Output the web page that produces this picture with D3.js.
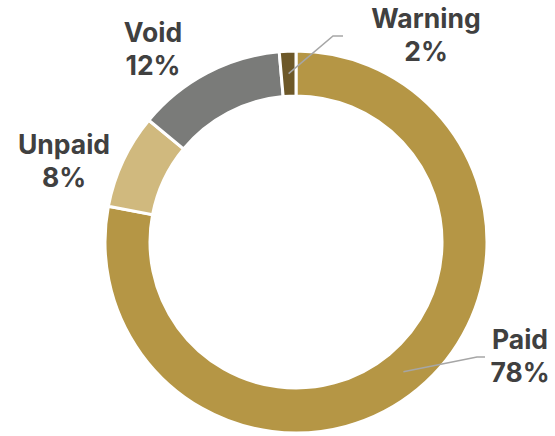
<!DOCTYPE html>
<html>
<head>
<meta charset="utf-8">
<script src="https://cdn.jsdelivr.net/npm/d3@7"></script>
<style>
  html, body { margin: 0; padding: 0; background: #fff; }
  svg { display: block; }
</style>
</head>
<body>
<svg id="chart" width="555" height="436"></svg>
<script>
const categories = ["Paid", "Unpaid", "Void", "Warning"];
const values = [78, 8, 12.6, 1.4];
const percentLabels = ["78%", "8%", "12%", "2%"];
const colors = ["#B59645", "#D0B97E", "#7A7B79", "#6D5828"];

const svg = d3.select("#chart");
const cx = 296, cy = 242, rOuter = 191, rInner = 146;

const pie = d3.pie().sort(null).value(d => d.value).startAngle(0).endAngle(2 * Math.PI);
const data = categories.map((c, i) => ({ name: c, value: values[i], pct: percentLabels[i], color: colors[i] }));
const arcs = pie(data);
const arc = d3.arc().innerRadius(rInner).outerRadius(rOuter);

const g = svg.append("g").attr("transform", `translate(${cx},${cy})`);
g.selectAll("path.slice").data(arcs).enter().append("path")
  .attr("class", "slice")
  .attr("d", arc)
  .attr("fill", d => d.data.color)
  .attr("stroke", "#fff")
  .attr("stroke-width", 3)
  .attr("stroke-linejoin", "miter");

// label layout (positions relative to svg)
const labelPos = {
  "Paid":    { x: 520, y: 349, line: [[477, 357], [485, 357]] },
  "Unpaid":  { x: 64,  y: 154 },
  "Void":    { x: 153, y: 42 },
  "Warning": { x: 426, y: 28,  line: [[333, 36], [343, 36]] }
};

arcs.forEach(a => {
  const lp = labelPos[a.data.name];
  if (lp.line) {
    const c = arc.centroid(a);
    const pts = [[c[0] + cx, c[1] + cy], lp.line[0], lp.line[1]];
    svg.append("path")
      .attr("d", d3.line()(pts))
      .attr("fill", "none")
      .attr("stroke", "#A6A6A6")
      .attr("stroke-width", 1.5);
  }
  const t = svg.append("text")
    .attr("x", lp.x).attr("y", lp.y)
    .attr("text-anchor", "middle")
    .attr("font-family", "Inter, 'Noto Sans', sans-serif")
    .attr("font-weight", 700)
    .attr("font-size", 26.5)
    .attr("fill", "#404040");
  t.append("tspan").attr("x", lp.x).text(a.data.name);
  t.append("tspan").attr("x", lp.x).attr("dy", 33).text(a.data.pct);
});
</script>
</body>
</html>
